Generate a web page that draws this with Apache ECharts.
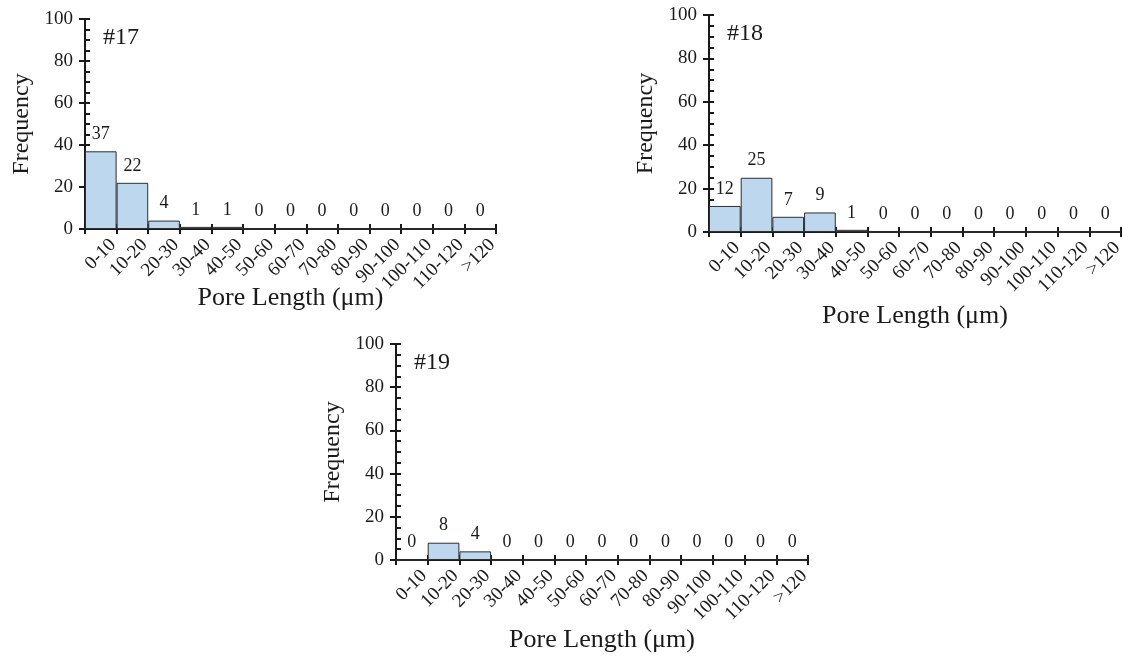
<!DOCTYPE html>
<html>
<head>
<meta charset="utf-8">
<script src="https://cdn.jsdelivr.net/npm/echarts@6/dist/echarts.min.js"></script>
<style>
  html, body { margin: 0; padding: 0; background: #fff; }
  #chart { width: 1123px; height: 658px; }
</style>
</head>
<body>
<div id="chart"></div>
<script>
// Pore length histograms for samples #17, #18 and #19
const categories = ['0-10', '10-20', '20-30', '30-40', '40-50', '50-60', '60-70',
  '70-80', '80-90', '90-100', '100-110', '110-120', '>120'];
const sample17 = [37, 22, 4, 1, 1, 0, 0, 0, 0, 0, 0, 0, 0];
const sample18 = [12, 25, 7, 9, 1, 0, 0, 0, 0, 0, 0, 0, 0];
const sample19 = [0, 8, 4, 0, 0, 0, 0, 0, 0, 0, 0, 0, 0];
const panelNames = ['#17', '#18', '#19'];
const yTicks = { min: 0, max: 100, interval: 20 };

const FONT = "'Liberation Serif', 'Times New Roman', serif";
const INK = '#1a1a1a';

// panel frames (plot area of each histogram) and x-axis title gap
const frames = [
  { left: 85, top: 19, width: 411, height: 210, nameGap: 56 },
  { left: 709, top: 15, width: 412, height: 217, nameGap: 71 },
  { left: 396, top: 344, width: 412, height: 216, nameGap: 67 }
];
const seriesData = [sample17, sample18, sample19];

const grid = [], xAxis = [], yAxis = [], series = [], title = [];

frames.forEach((f, i) => {
  grid.push({
    left: f.left, top: f.top, width: f.width, height: f.height,
    containLabel: false, outerBoundsMode: 'none'
  });

  // main category axis: line, inside ticks, slanted labels, name
  xAxis.push({
    type: 'category', gridIndex: i, data: categories, position: 'bottom',
    boundaryGap: true,
    axisLine: { show: true, lineStyle: { color: INK, width: 2 } },
    axisTick: { show: true, inside: true, length: 5, interval: 0, lineStyle: { color: INK, width: 2 } },
    axisLabel: {
      interval: 0, rotate: 45, align: 'right', verticalAlign: 'top', margin: 1,
      lineHeight: 34, fontFamily: FONT, fontSize: 19, color: INK
    },
    name: 'Pore Length (μm)', nameLocation: 'middle', nameGap: f.nameGap,
    nameMoveOverlap: false,
    nameTextStyle: { fontFamily: FONT, fontSize: 26, color: INK },
    splitLine: { show: false }
  });
  // companion axis giving the outward half of each crossing tick
  xAxis.push({
    type: 'category', gridIndex: i, data: categories, position: 'bottom', offset: 0,
    boundaryGap: true,
    axisLine: { show: false },
    axisTick: { show: true, inside: false, length: 5, interval: 0, lineStyle: { color: INK, width: 2 } },
    axisLabel: { show: false }, splitLine: { show: false }
  });

  yAxis.push({
    type: 'value', gridIndex: i, position: 'left', ...yTicks,
    axisLine: { show: true, lineStyle: { color: INK, width: 2 } },
    axisTick: { show: true, inside: true, length: 5, lineStyle: { color: INK, width: 2 } },
    minorTick: { show: true, splitNumber: 4, length: 5, lineStyle: { color: INK, width: 2 } },
    axisLabel: { margin: 12, fontFamily: FONT, fontSize: 19, color: INK },
    name: 'Frequency', nameLocation: 'middle', nameGap: 51, nameMoveOverlap: false,
    nameTextStyle: { fontFamily: FONT, fontSize: 24, color: INK },
    splitLine: { show: false }
  });
  yAxis.push({
    type: 'value', gridIndex: i, position: 'left', offset: 0, ...yTicks,
    axisLine: { show: false },
    axisTick: { show: true, inside: false, length: 6, lineStyle: { color: INK, width: 2 } },
    axisLabel: { show: false }, splitLine: { show: false }
  });

  series.push({
    type: 'bar', xAxisIndex: i * 2, yAxisIndex: i * 2,
    data: seriesData[i], barCategoryGap: '0%',
    itemStyle: { color: '#BDD7EE', borderColor: '#2e2e2e', borderWidth: 1 },
    label: {
      show: true, position: 'top', distance: 8,
      fontFamily: FONT, fontSize: 18, color: INK
    },
    silent: true, animation: false
  });

  title.push({
    text: panelNames[i], left: f.left + 13, top: f.top + 2,
    textStyle: { fontFamily: FONT, fontSize: 24, fontWeight: 'normal', color: INK }
  });
});

const chart = echarts.init(document.getElementById('chart'), null, { renderer: 'canvas' });
chart.setOption({ animation: false, backgroundColor: '#fff', title, grid, xAxis, yAxis, series });
</script>
</body>
</html>
